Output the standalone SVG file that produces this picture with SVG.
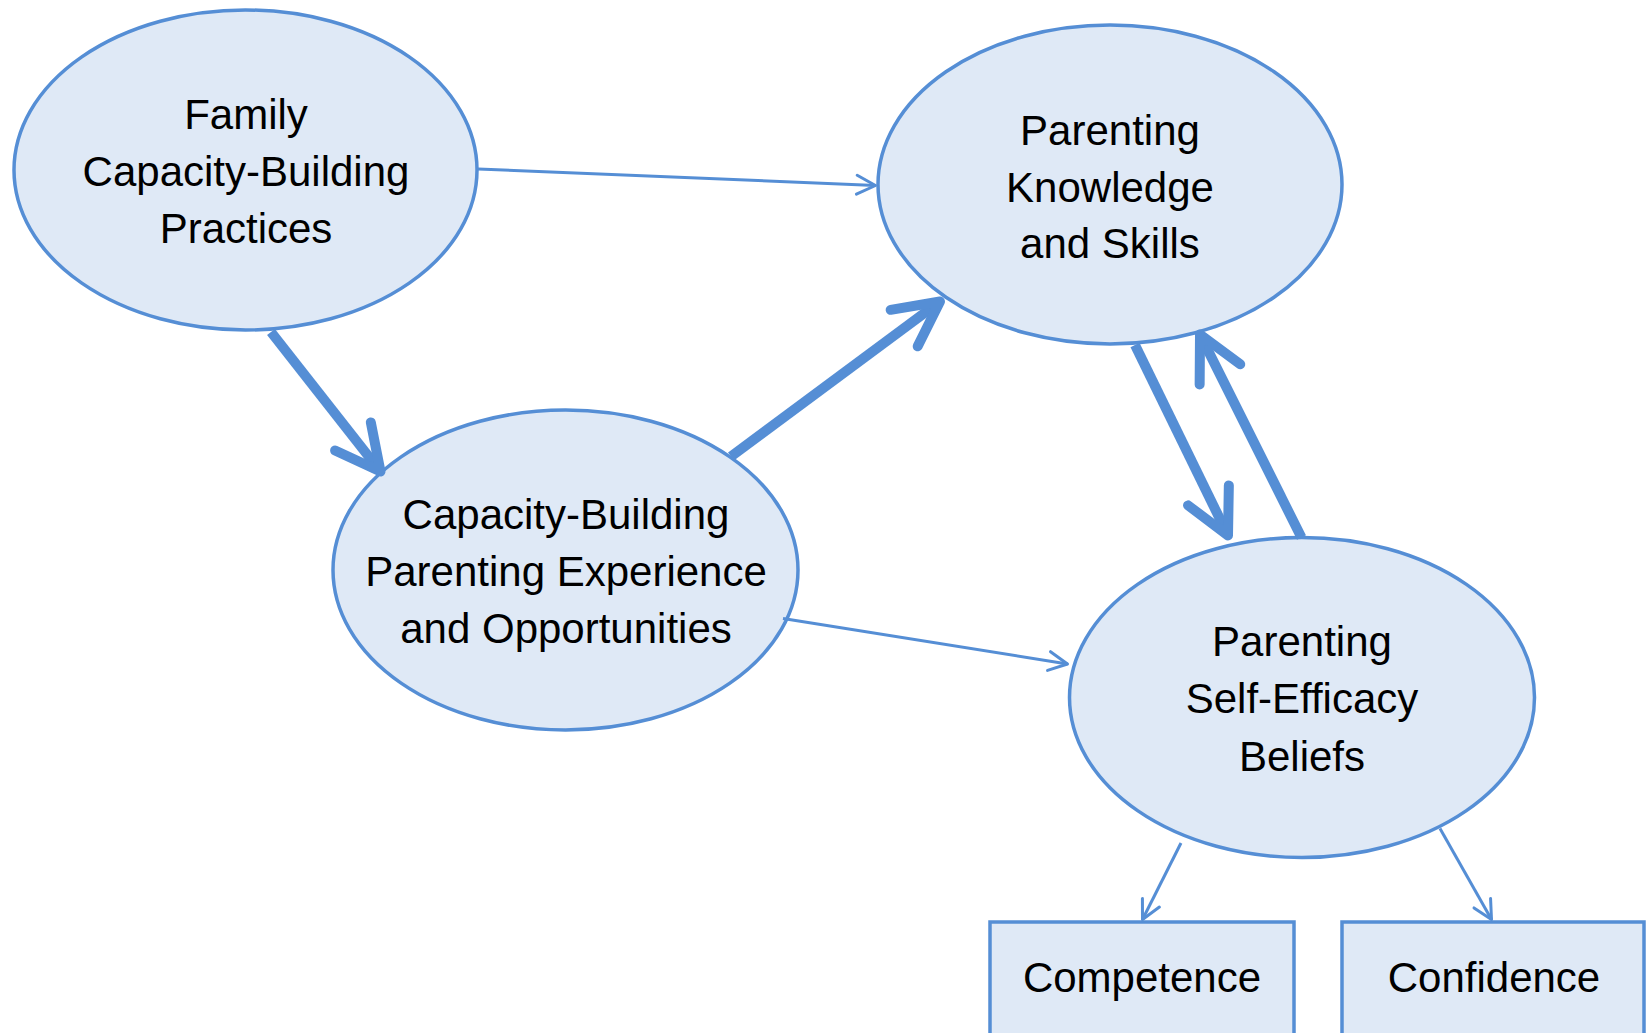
<svg xmlns="http://www.w3.org/2000/svg" width="1646" height="1033" viewBox="0 0 1646 1033">
  <style>
    .node { fill: #DFE9F6; stroke: #558ED5; stroke-width: 3.5; }
    .label { font-family: "Liberation Sans", Arial, sans-serif; font-size: 42px; fill: #000; text-anchor: middle; }
    .thin { stroke: #558ED5; stroke-width: 3; fill: none; }
    .thick { stroke: #558ED5; stroke-width: 10; fill: none; }
  </style>
  <defs>
    <marker id="arrowThin" markerUnits="userSpaceOnUse" orient="auto" markerWidth="40" markerHeight="40" refX="0" refY="0" viewBox="-30 -20 40 40" overflow="visible">
      <path d="M -18.7 -9.5 L 0 0 L -18.7 9.5" fill="none" stroke="#558ED5" stroke-width="3" stroke-linejoin="round" stroke-linecap="round"/>
    </marker>
    <marker id="arrowThick" markerUnits="userSpaceOnUse" orient="auto" markerWidth="100" markerHeight="100" refX="0" refY="0" viewBox="-60 -40 100 80" overflow="visible">
      <path d="M -44.6 -22.7 L 0 0 L -44.6 22.7" fill="none" stroke="#558ED5" stroke-width="10" stroke-linejoin="round" stroke-linecap="round"/>
    </marker>
  </defs>
  <rect x="0" y="0" width="1646" height="1033" fill="#FFFFFF"/>

  <g id="node-family-practices">
    <ellipse class="node" cx="245.5" cy="170" rx="231.5" ry="160"/>
    <text class="label" x="246" y="129">Family</text>
    <text class="label" x="246" y="185.5">Capacity-Building</text>
    <text class="label" x="246" y="242.5">Practices</text>
  </g>

  <g id="node-knowledge-skills">
    <ellipse class="node" cx="1110" cy="184.5" rx="232" ry="159.5"/>
    <text class="label" x="1110" y="145">Parenting</text>
    <text class="label" x="1110" y="201.5">Knowledge</text>
    <text class="label" x="1110" y="258">and Skills</text>
  </g>

  <g id="node-parenting-experience">
    <ellipse class="node" cx="565.5" cy="570" rx="232.5" ry="160"/>
    <text class="label" x="566" y="529">Capacity-Building</text>
    <text class="label" x="566" y="586">Parenting Experience</text>
    <text class="label" x="566" y="643">and Opportunities</text>
  </g>

  <g id="node-self-efficacy">
    <ellipse class="node" cx="1302" cy="697.5" rx="232.5" ry="160"/>
    <text class="label" x="1302" y="656">Parenting</text>
    <text class="label" x="1302" y="713">Self-Efficacy</text>
    <text class="label" x="1302" y="771">Beliefs</text>
  </g>

  <g id="node-competence">
    <rect class="node" x="990" y="922" width="304" height="130"/>
    <text class="label" x="1142" y="992">Competence</text>
  </g>

  <g id="node-confidence">
    <rect class="node" x="1342" y="922" width="302" height="130"/>
    <text class="label" x="1494" y="992">Confidence</text>
  </g>

  <g id="connectors">
    <line class="thin" x1="478" y1="169" x2="875.5" y2="185.5" marker-end="url(#arrowThin)"/>
    <line class="thick" x1="271" y1="332" x2="380.5" y2="471.5" marker-end="url(#arrowThick)"/>
    <line class="thick" x1="731" y1="456.5" x2="940" y2="301.5" marker-end="url(#arrowThick)"/>
    <line class="thick" x1="1135" y1="345" x2="1228" y2="535.5" marker-end="url(#arrowThick)"/>
    <line class="thick" x1="1301.5" y1="537.5" x2="1200" y2="334.5" marker-end="url(#arrowThick)"/>
    <line class="thin" x1="783" y1="618.5" x2="1067.5" y2="664" marker-end="url(#arrowThin)"/>
    <line class="thin" x1="1181" y1="843" x2="1142.5" y2="919.5" marker-end="url(#arrowThin)"/>
    <line class="thin" x1="1440" y1="828.5" x2="1491.5" y2="919.5" marker-end="url(#arrowThin)"/>
  </g>
</svg>
